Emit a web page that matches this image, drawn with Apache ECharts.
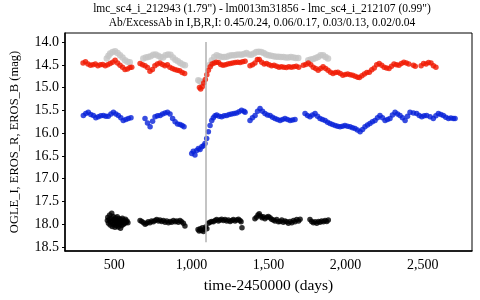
<!DOCTYPE html>
<html>
<head>
<meta charset="utf-8">
<script src="https://cdn.jsdelivr.net/npm/echarts@6/dist/echarts.min.js"></script>
<style>html,body{margin:0;padding:0;background:#fff}#c{width:480px;height:300px}</style>
</head>
<body>
<div id="c"></div>
<script>
var titleLines = ['lmc_sc4_i_212943 (1.79") - lm0013m31856 - lmc_sc4_i_212107 (0.99")',
                  'Ab/ExcessAb in I,B,R,I: 0.45/0.24, 0.06/0.17, 0.03/0.13, 0.02/0.04'];
var xTicks = [500, 1000, 1500, 2000, 2500];
var yTicks = [14.0, 14.5, 15.0, 15.5, 16.0, 16.5, 17.0, 17.5, 18.0, 18.5];
var eventDay = 1093;
var eventRange = [14.0, 18.4];

var greyR = [[451,14.36],[462,14.30],[473,14.25],[489,14.22],[505,14.20],[521,14.24],[537,14.29],[553,14.34],[569,14.40],[585,14.43],[600,14.44],
[688,14.36],[704,14.34],[720,14.33],[736,14.31],[752,14.28],[768,14.27],[784,14.30],[800,14.33],[816,14.34],[832,14.29],[848,14.27],[864,14.28],[880,14.34],[896,14.39],[912,14.42],[928,14.46],[944,14.49],[958,14.51],
[1045,14.84],[1056,14.86],[1067,14.88],[1120,14.50],[1132,14.40],[1148,14.33],[1164,14.29],[1180,14.31],[1196,14.33],[1212,14.33],[1229,14.32],[1245,14.30],[1261,14.29],[1277,14.29],[1293,14.28],[1309,14.27],[1325,14.28],[1341,14.26],[1357,14.24],[1373,14.27],[1389,14.28],[1405,14.25],[1421,14.22],[1437,14.21],[1453,14.22],[1469,14.24],[1485,14.27],[1501,14.29],[1517,14.30],[1533,14.31],[1549,14.32],[1565,14.32],[1581,14.33],[1597,14.33],[1613,14.34],[1629,14.34],[1645,14.33],[1661,14.34],[1677,14.35],[1693,14.35],
[1758,14.40],[1774,14.38],[1790,14.37],[1806,14.35],[1822,14.33],[1838,14.29],[1854,14.29],[1870,14.33],[1886,14.36]];

var erosR = [[297,14.46],[313,14.43],[329,14.48],[345,14.51],[361,14.50],[377,14.48],[393,14.52],[409,14.50],[425,14.49],[441,14.52],[457,14.50],[473,14.47],[489,14.44],[505,14.40],[521,14.46],[537,14.51],[553,14.55],[569,14.60],[585,14.59],[601,14.56],[613,14.55],
[667,14.47],[683,14.50],[699,14.52],[715,14.56],[731,14.64],[747,14.60],[763,14.52],[779,14.48],[796,14.46],[812,14.49],[828,14.52],[844,14.50],[860,14.55],[876,14.58],[892,14.60],[908,14.62],[924,14.63],[940,14.67],[956,14.69],
[1052,15.00],[1060,15.03],[1070,14.98],[1080,14.90],[1090,14.82],[1100,14.72],[1110,14.62],[1122,14.54],[1134,14.48],[1148,14.46],[1162,14.44],[1176,14.45],[1190,14.49],[1205,14.51],[1220,14.50],[1236,14.48],[1252,14.47],[1268,14.46],[1284,14.45],[1300,14.44],[1316,14.45],[1332,14.43],[1348,14.42],
[1380,14.52],[1396,14.50],[1412,14.46],[1428,14.38],[1440,14.38],[1456,14.44],[1472,14.48],[1488,14.47],[1504,14.50],[1520,14.52],[1536,14.51],[1552,14.53],[1568,14.55],[1584,14.54],[1600,14.55],[1616,14.56],[1632,14.54],[1648,14.55],[1664,14.54],[1680,14.53],[1696,14.55],
[1726,14.51],[1742,14.49],[1758,14.46],[1774,14.50],[1790,14.55],[1806,14.58],[1822,14.62],[1838,14.58],[1854,14.54],[1870,14.58],[1886,14.62],[1902,14.66],[1918,14.69],[1934,14.67],[1950,14.66],[1966,14.69],[1982,14.73],[1998,14.71],[2014,14.70],[2030,14.72],[2046,14.73],[2062,14.75],[2078,14.77],[2090,14.78],
[2106,14.74],[2122,14.70],[2138,14.67],[2154,14.66],[2170,14.61],[2186,14.57],[2202,14.50],[2218,14.47],[2234,14.51],[2250,14.55],[2266,14.57],[2282,14.58],[2298,14.53],[2314,14.48],[2330,14.50],[2346,14.51],[2362,14.47],[2378,14.44],[2394,14.46],[2410,14.48],
[2440,14.51],[2452,14.53],[2490,14.52],[2506,14.47],[2522,14.48],[2538,14.45],[2554,14.46],[2570,14.52],[2586,14.55]];

var erosB = [[299,15.61],[315,15.57],[331,15.54],[347,15.59],[364,15.61],[380,15.66],[396,15.64],[412,15.62],[429,15.61],[445,15.63],[461,15.63],[478,15.58],[494,15.54],[510,15.58],[526,15.61],[542,15.66],[558,15.72],[575,15.70],[591,15.68],[608,15.66],
[699,15.68],[715,15.78],[732,15.86],[748,15.74],[764,15.64],[780,15.62],[797,15.61],[813,15.58],[829,15.56],[845,15.54],[861,15.58],[878,15.68],[894,15.75],[910,15.80],[926,15.81],[940,15.83],[952,15.86],
[1002,16.45],[1012,16.40],[1023,16.48],[1034,16.38],[1045,16.34],[1056,16.36],[1067,16.30],[1078,16.28],[1088,16.23],[1099,16.12],[1110,15.97],[1121,15.83],[1132,15.72],[1142,15.66],[1153,15.62],[1164,15.60],[1180,15.63],[1196,15.64],[1212,15.62],[1229,15.61],[1245,15.59],[1261,15.58],[1277,15.57],[1293,15.56],[1309,15.53],[1325,15.50],[1341,15.52],[1348,15.54],
[1380,15.72],[1396,15.66],[1413,15.61],[1429,15.52],[1445,15.46],[1461,15.52],[1477,15.57],[1493,15.60],[1510,15.61],[1526,15.65],[1542,15.68],[1558,15.70],[1575,15.72],[1591,15.70],[1607,15.68],[1623,15.70],[1640,15.72],[1656,15.71],[1672,15.70],
[1737,15.57],[1753,15.61],[1769,15.64],[1785,15.60],[1802,15.57],[1818,15.63],[1834,15.68],[1850,15.70],[1867,15.72],[1883,15.76],[1899,15.79],[1915,15.81],[1932,15.83],[1948,15.85],[1964,15.86],[1980,15.85],[1996,15.83],[2012,15.85],[2029,15.86],[2045,15.88],[2061,15.90],[2077,15.93],[2094,15.97],[2110,15.92],[2126,15.86],[2142,15.82],[2158,15.79],[2174,15.75],[2191,15.72],[2207,15.66],[2223,15.61],[2239,15.66],[2256,15.72],[2272,15.70],[2288,15.68],[2304,15.60],[2321,15.54],[2337,15.58],[2353,15.61],[2369,15.66],[2386,15.72],[2402,15.63],[2418,15.54],[2440,15.56],[2461,15.57],[2478,15.61],[2494,15.64],[2510,15.62],[2526,15.61],[2548,15.64],[2569,15.68],[2586,15.62],[2602,15.57],[2618,15.59],[2634,15.61],[2650,15.65],[2667,15.68],[2683,15.67],[2699,15.68],[2710,15.68]];

var ogleI = [[455,17.92],[458,17.85],[462,17.98],[466,17.90],[470,17.80],[473,18.02],[476,17.95],[480,17.88],[483,17.76],[486,18.05],[489,17.93],[492,17.83],[495,18.00],[498,17.90],[501,17.97],[504,18.07],[507,17.86],[510,17.95],[513,18.03],[516,17.91],[519,17.84],[522,17.99],[525,18.06],[528,17.93],[531,17.88],[534,18.01],[537,17.96],[540,18.09],[543,17.90],[546,17.97],[549,18.03],[552,17.87],[556,17.95],[560,18.00],[564,17.92],[568,17.98],[572,17.89],[577,17.96],[582,17.93],[588,17.97],
[667,17.92],[678,17.94],[690,17.97],[700,18.00],[710,17.98],[720,17.95],[731,17.97],[742,17.93],[753,17.95],[764,17.92],[775,17.90],[786,17.93],[796,17.91],[807,17.94],[818,17.92],[829,17.96],[840,17.93],[851,17.97],[862,17.94],[872,17.96],[883,17.92],[894,17.95],[905,17.93],[915,17.96],[926,17.92],[936,17.95],[948,17.98],[958,18.04],
[1043,18.12],[1050,18.15],[1057,18.10],[1064,18.14],[1071,18.08],[1078,18.16],[1085,18.12],[1092,18.06],[1100,18.10],[1110,17.98],[1120,17.96],[1131,17.94],[1142,17.95],[1153,17.92],[1164,17.90],[1175,17.93],[1185,17.91],[1196,17.89],[1207,17.92],[1218,17.90],[1229,17.93],[1240,17.91],[1251,17.94],[1262,17.92],[1272,17.90],[1283,17.93],[1294,17.91],[1305,17.89],[1315,17.92],[1322,17.95],[1328,18.08],
[1412,17.88],[1422,17.85],[1432,17.80],[1440,17.77],[1448,17.82],[1458,17.86],[1466,17.84],[1477,17.88],[1488,17.85],[1499,17.83],[1510,17.86],[1520,17.89],[1531,17.91],[1542,17.93],[1553,17.90],[1564,17.95],[1575,17.94],[1586,17.91],[1596,17.96],[1607,17.93],[1618,17.95],[1629,17.98],[1640,17.94],[1651,17.97],[1662,17.92],[1672,17.95],[1683,17.90],[1695,17.93],[1705,17.89],
[1769,17.90],[1780,17.94],[1791,17.97],[1802,17.95],[1813,17.98],[1824,17.94],[1834,17.96],[1845,17.93],[1856,17.95],[1867,17.92],[1878,17.94],[1888,17.91]];

var serif = '"Liberation Serif", "DejaVu Serif", serif';
var titleFont = '11.5px "Liberation Serif", serif';
var chart = echarts.init(document.getElementById('c'), null, {renderer: 'canvas'});
chart.setOption({
  animation: false,
  backgroundColor: '#fff',
  graphic: [
    {type: 'text', x: 262, y: 9, style: {text: titleLines[0], font: titleFont, fill: '#000', align: 'center', verticalAlign: 'middle'}},
    {type: 'text', x: 262, y: 23, style: {text: titleLines[1], font: titleFont, fill: '#000', align: 'center', verticalAlign: 'middle'}}
  ],
  grid: {left: 65, right: 8, top: 33, bottom: 49, show: true, borderColor: '#000', borderWidth: 1},
  xAxis: {
    type: 'value', min: 180, max: 2820,
    name: 'time-2450000 (days)', nameLocation: 'middle', nameGap: 27,
    nameTextStyle: {fontFamily: serif, fontSize: 15.5, color: '#000'},
    axisLine: {show: true, lineStyle: {color: '#000', width: 1.5}},
    axisTick: {show: false},
    splitLine: {show: false},
    axisLabel: {customValues: xTicks, fontFamily: serif, fontSize: 14, color: '#000', margin: 7,
      formatter: function (v) { return v.toLocaleString('en-US'); }}
  },
  yAxis: {
    type: 'value', min: 13.8, max: 18.59, inverse: true,
    name: 'OGLE_I, EROS_R, EROS_B (mag)', nameLocation: 'middle', nameGap: 44, nameRotate: 90,
    nameTextStyle: {fontFamily: serif, fontSize: 12.5, color: '#000'},
    axisLine: {show: true, lineStyle: {color: '#000', width: 1.5}},
    axisTick: {show: true, customValues: yTicks, length: 3, lineStyle: {color: '#000', width: 1}},
    splitLine: {show: false},
    axisLabel: {customValues: yTicks, fontFamily: serif, fontSize: 14, color: '#000', margin: 6,
      formatter: function (v) { return v.toFixed(1); }}
  },
  series: [
    {type: 'scatter', name: 'grey', data: greyR, symbolSize: 6.5, itemStyle: {color: '#c4c4c4'}, z: 2,
     markLine: {silent: true, symbol: 'none', label: {show: false},
       lineStyle: {color: '#b0b0b0', width: 1.5, type: 'solid'},
       data: [[{coord: [eventDay, eventRange[0]]}, {coord: [eventDay, eventRange[1]]}]]}},
    {type: 'scatter', name: 'EROS_R', data: erosR, symbolSize: 5.5, itemStyle: {color: '#f01800'}, z: 3},
    {type: 'scatter', name: 'EROS_B', data: erosB, symbolSize: 5.5, itemStyle: {color: '#0620d8'}, z: 3},
    {type: 'scatter', name: 'OGLE_I', data: ogleI, symbolSize: 5.5, itemStyle: {color: '#000'}, z: 3}
  ]
});
</script>
</body>
</html>
